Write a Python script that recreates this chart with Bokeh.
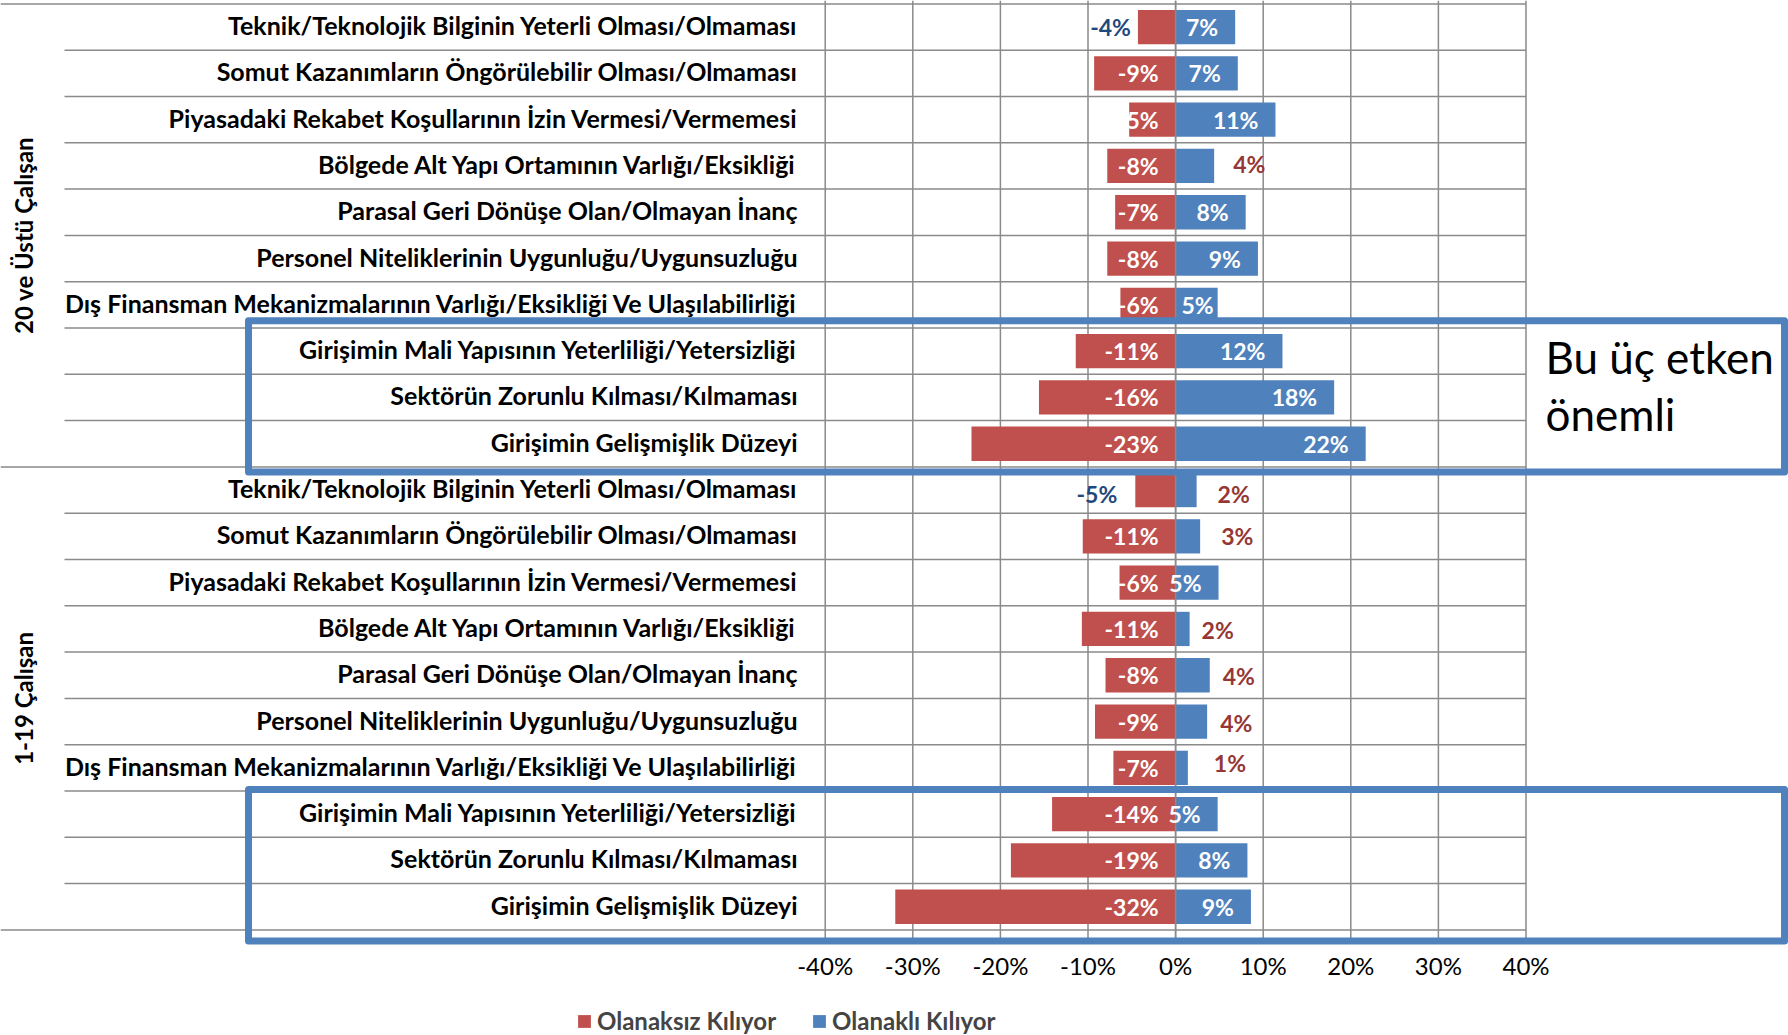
import numpy as np
from bokeh.plotting import figure
from bokeh.models import ColumnDataSource, Range1d, Legend, LegendItem
from bokeh.core.properties import value
from bokeh.embed import file_html
from bokeh.resources import INLINE

# ---------------- data ----------------
groups = ["20 ve Üstü Çalışan", "1-19 Çalışan"]
categories = [
    "Teknik/Teknolojik Bilginin Yeterli Olması/Olmaması",
    "Somut Kazanımların Öngörülebilir Olması/Olmaması",
    "Piyasadaki Rekabet Koşullarının İzin Vermesi/Vermemesi",
    "Bölgede Alt Yapı Ortamının Varlığı/Eksikliği",
    "Parasal Geri Dönüşe Olan/Olmayan İnanç",
    "Personel Niteliklerinin Uygunluğu/Uygunsuzluğu",
    "Dış Finansman Mekanizmalarının Varlığı/Eksikliği Ve Ulaşılabilirliği",
    "Girişimin Mali Yapısının Yeterliliği/Yetersizliği",
    "Sektörün Zorunlu Kılması/Kılmaması",
    "Girişimin Gelişmişlik Düzeyi",
]
series_names = ["Olanaksız Kılıyor", "Olanaklı Kılıyor"]
olanaksiz_20plus = [-4.3, -9.3, -5.3, -7.8, -6.9, -7.8, -6.3, -11.4, -15.6, -23.3]
olanakli_20plus = [6.8, 7.1, 11.4, 4.4, 8.0, 9.4, 4.8, 12.2, 18.1, 21.7]
olanaksiz_1_19 = [-4.6, -10.6, -6.4, -10.7, -8.0, -9.2, -7.1, -14.1, -18.8, -32.0]
olanakli_1_19 = [2.4, 2.8, 4.9, 1.6, 3.9, 3.6, 1.4, 4.8, 8.2, 8.6]
highlighted = [7, 8, 9]
ticks = [-40, -30, -20, -10, 0, 10, 20, 30, 40]
tick_labels = ["-40%", "-30%", "-20%", "-10%", "0%", "10%", "20%", "30%", "40%"]
note_lines = ["Bu üç etken", "önemli"]

# ---------------- styles / layout ----------------
RED = "#C0504D"
BLUE = "#4F81BD"
GRID = "#8A8A8A"
NAVY = "#1F497D"
DARKRED = "#953735"
FONT = "Lato"

W, H = 1788, 1035
PX_PER = 700.8 / 80.0          # pixels per percentage point
X_LEFT = -40 - 824.7 / PX_PER
ROW_H = 46.3
ROW_TOP = 3.4


def xpx(rx):
    return X_LEFT + rx / PX_PER


def ypx(ry):
    return (ry - ROW_TOP) / ROW_H


# label placement styles (pixels); rows indexed 0..19 top to bottom
red_outside_dx = {0: -7, 10: -18}
blue_outside_dx = {3: 19, 10: 21, 11: 21, 13: 12, 14: 13, 15: 13, 16: 26}
blue_inside_dx = {6: -4}
label_dy = {3: -2, 10: 4, 13: 1.5, 14: 1, 15: 1, 16: -5}
INSIDE_PAD = -17

p = figure(width=W, height=H,
           x_range=Range1d(X_LEFT, X_LEFT + W / PX_PER),
           y_range=Range1d(ypx(H), ypx(0)),
           output_backend="svg", toolbar_location=None,
           x_axis_location=None, y_axis_location=None, min_border=0)
p.grid.visible = False
p.outline_line_color = None
p.background_fill_color = "white"
p.border_fill_color = "white"

n_per = len(categories)
n = n_per * len(groups)
rows = np.arange(n) + 0.5
red_vals = np.array(olanaksiz_20plus + olanaksiz_1_19, dtype=float)
blue_vals = np.array(olanakli_20plus + olanakli_1_19, dtype=float)
cat_all = categories * len(groups)

# vertical grid lines (with small tick extension below)
p.segment(x0=ticks, x1=ticks, y0=[ypx(0)] * len(ticks), y1=[n + 10 / ROW_H] * len(ticks),
          line_color=GRID, line_width=1.5)

# horizontal row lines
bounds = np.arange(n + 1)
xs0 = [xpx(0) if b % n_per == 0 else xpx(64) for b in bounds]
p.segment(x0=xs0, x1=[ticks[-1]] * len(bounds), y0=bounds, y1=bounds,
          line_color=GRID, line_width=1.5)

# bars
src_red = ColumnDataSource(dict(y=rows, v=red_vals))
src_blue = ColumnDataSource(dict(y=rows, v=blue_vals))
r_red = p.hbar(y="y", left=0, right="v", height=0.74, source=src_red,
               fill_color=RED, line_color=None)
r_blue = p.hbar(y="y", left=0, right="v", height=0.74, source=src_blue,
                fill_color=BLUE, line_color=None)

# zero axis line
p.segment(x0=[0], x1=[0], y0=[ypx(0)], y1=[n + 10 / ROW_H], line_color=GRID, line_width=1.5)

# highlight boxes
box_tops = [320.3, 789.0]
box_bots = [471.6, 940.5]
p.quad(left=[xpx(248)] * 2, right=[xpx(1784)] * 2,
       top=[ypx(t) for t in box_tops], bottom=[ypx(b) for b in box_bots],
       fill_alpha=0, line_color=BLUE, line_width=7, line_join="round")

# category labels
p.text(x=[xpx(797)] * n, y=rows, text=cat_all, text_align="right", text_baseline="middle",
       y_offset=-2,
       text_font=value(FONT), text_font_style="bold", text_font_size="25px", text_color="black")

# group labels (rotated)
p.text(x=[xpx(23)] * len(groups), y=[n_per * (g + 0.5) for g in range(len(groups))],
       text=groups, angle=np.pi / 2, text_align="center", text_baseline="middle",
       text_font=value(FONT), text_font_style="bold", text_font_size="24px", text_color="black")

# value labels
def fmt(v):
    return f"{int(round(v))}%"

rx, ry, rt, rdx, rdy, rc = [], [], [], [], [], []
lx, ly, lt, ldx, ldy, lc = [], [], [], [], [], []
for i in range(n):
    dy = label_dy.get(i, 0)
    v = red_vals[i]
    if i in red_outside_dx:
        rx.append(v); rdx.append(red_outside_dx[i]); rc.append(NAVY)
    else:
        rx.append(0); rdx.append(INSIDE_PAD); rc.append("white")
    ry.append(rows[i]); rt.append(fmt(v)); rdy.append(0 if i not in red_outside_dx else dy)
    b = blue_vals[i]
    if i in blue_outside_dx:
        lx.append(b); ly.append(rows[i]); lt.append(fmt(b)); ldx.append(blue_outside_dx[i])
        ldy.append(dy); lc.append(DARKRED)
    else:
        rx.append(b); ry.append(rows[i]); rt.append(fmt(b))
        rdx.append(blue_inside_dx.get(i, INSIDE_PAD)); rdy.append(0); rc.append("white")

src_rl = ColumnDataSource(dict(x=rx, y=ry, t=rt, dx=rdx, dy=rdy, c=rc))
src_ll = ColumnDataSource(dict(x=lx, y=ly, t=lt, dx=ldx, dy=ldy, c=lc))
p.text(x="x", y="y", text="t", x_offset="dx", y_offset="dy", text_color="c", source=src_rl,
       text_align="right", text_baseline="middle", text_font=value(FONT),
       text_font_style="bold", text_font_size="23px")
p.text(x="x", y="y", text="t", x_offset="dx", y_offset="dy", text_color="c", source=src_ll,
       text_align="left", text_baseline="middle", text_font=value(FONT),
       text_font_style="bold", text_font_size="23px")

# tick labels
p.text(x=ticks, y=[ypx(965)] * len(ticks), text=tick_labels, text_align="center",
       text_baseline="middle", text_font=value(FONT), text_font_size="24px", text_color="black")

# note text
p.text(x=[xpx(1545)] * 2, y=[ypx(356), ypx(413)], text=note_lines, text_align="left",
       text_baseline="middle", text_font=value(FONT), text_font_size="44px", text_color="black")

legend = Legend(items=[LegendItem(label=series_names[0], renderers=[r_red]),
                       LegendItem(label=series_names[1], renderers=[r_blue])],
                orientation="horizontal", location=(576, 0), glyph_width=16, glyph_height=16,
                label_standoff=5, spacing=35, padding=0, margin=0, border_line_alpha=0,
                background_fill_alpha=0, label_text_font=FONT, label_text_font_style="bold",
                label_text_font_size="24px", label_height=20)
p.add_layout(legend)

open("out.html", "w").write(file_html(p, INLINE))
